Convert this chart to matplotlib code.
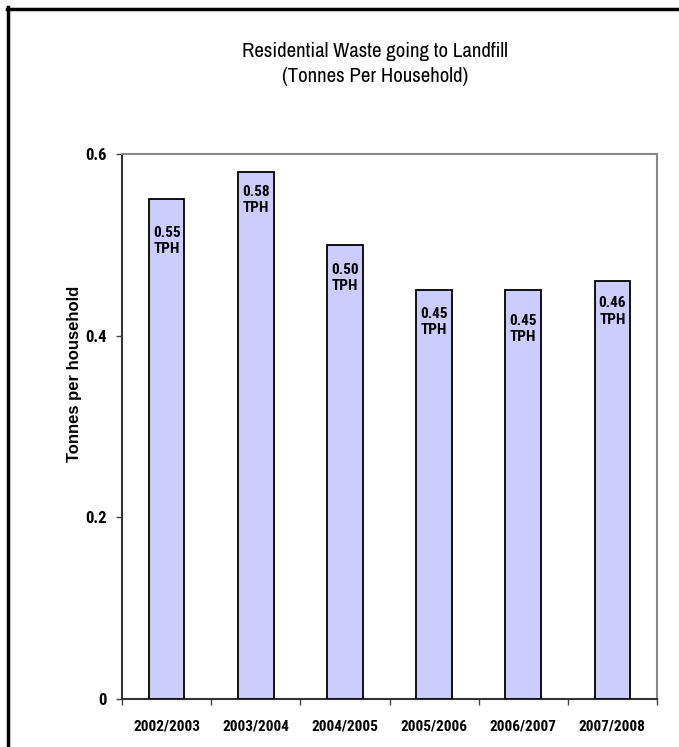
import matplotlib
matplotlib.use("Agg")
import matplotlib.pyplot as plt
from matplotlib.lines import Line2D

# data
years = ["2002/2003", "2003/2004", "2004/2005", "2005/2006", "2006/2007", "2007/2008"]
tph = [0.55, 0.58, 0.50, 0.45, 0.45, 0.46]
yticks = [0, 0.2, 0.4, 0.6]
ytick_labels = ["0", "0.2", "0.4", "0.6"]
title_lines = ["Residential Waste going to Landfill", "(Tonnes Per Household)"]

narrow = ["Archivo Narrow", "Liberation Sans", "DejaVu Sans"]
narrow_bold = ["Roboto Condensed", "Asap Condensed", "Liberation Sans", "DejaVu Sans"]
plt.rcParams["font.family"] = narrow

fig = plt.figure(figsize=(6.79, 7.47), dpi=100)
ax = fig.add_axes([0.1797, 0.0643, 0.7879, 0.7295])

x = list(range(len(years)))
bars = ax.bar(x, tph, width=0.4, color="#ccccff", edgecolor="black", linewidth=1.3, zorder=3)

# value labels inside the top of each bar (Excel puts them a bit unevenly)
label_drop = [19, 9, 13, 12, 17, 11]
for b, v, d in zip(bars, tph, label_drop):
    ax.annotate("%.2f\nTPH" % v, (b.get_x() + b.get_width() / 2, v),
                xytext=(0, -d), textcoords="offset points",
                ha="center", va="top", fontsize=11, fontweight="bold",
                family=narrow_bold, linespacing=1.2)

ax.set_xlim(-0.5, len(years) - 0.5)
ax.set_ylim(0, 0.6)
ax.set_xticks([i - 0.5 for i in range(len(years) + 1)])
ax.set_xticklabels([])
ax.set_xticks(x, minor=True)
ax.set_xticklabels(years, minor=True, fontsize=11, fontweight="bold", family=narrow_bold)
ax.tick_params(axis="x", which="major", direction="out", length=4, width=1, colors="#444444")
ax.tick_params(axis="x", which="minor", length=0, pad=15, labelcolor="black")
ax.set_yticks(yticks)
ax.set_yticklabels(ytick_labels, fontsize=12, fontweight="bold", family=narrow_bold)
ax.tick_params(axis="y", direction="out", length=4, width=1, pad=7, colors="#444444", labelcolor="black")

ax.spines["left"].set_color("#333333")
ax.spines["bottom"].set_color("#333333")
ax.spines["top"].set_color("#888888")
ax.spines["right"].set_color("#888888")
for s in ax.spines.values():
    s.set_linewidth(1.5)

ax.set_ylabel("Tonnes per household", fontsize=12, fontweight="bold",
              family=["Liberation Sans", "DejaVu Sans"])
ax.yaxis.set_label_coords(-0.075, 0.596)

fig.text(0.5523, 0.9233, title_lines[0], ha="center", va="baseline", fontsize=15)
fig.text(0.5523, 0.8906, title_lines[1], ha="center", va="baseline", fontsize=15)

# outer border (only top and left show in the picture)
fig.add_artist(Line2D([0.0103, 1.0], [0.9886, 0.9886], color="black", linewidth=2.5,
                      transform=fig.transFigure))
fig.add_artist(Line2D([0.0125, 0.0125], [0.0, 0.9906], color="black", linewidth=2.5,
                      transform=fig.transFigure))

fig.savefig("out.png", dpi=100)
